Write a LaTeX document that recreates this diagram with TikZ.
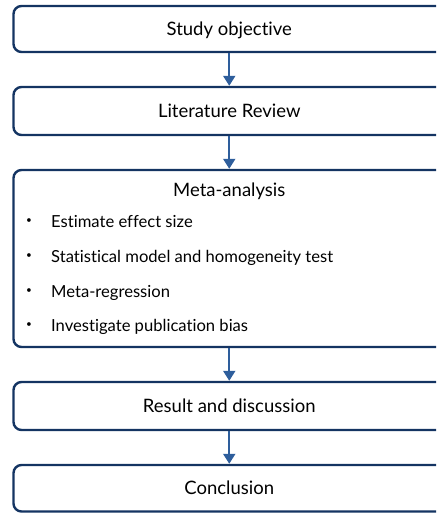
\documentclass[tikz,border=0pt]{standalone}
\usepackage{fontspec}
\setmainfont[Ligatures=NoCommon]{Lato}
\usetikzlibrary{arrows.meta}
\definecolor{boxline}{RGB}{20,52,98}
\definecolor{arrowc}{RGB}{46,94,156}
\tikzset{
  stage/.style={draw=boxline, line width=2.4pt, rounded corners=8pt, fill=white,
    minimum width=431.5pt, inner sep=0pt, text height=13.4pt, text depth=0pt,
    font=\fontsize{18.5}{22}\selectfont},
  flow/.style={draw=arrowc, line width=2pt, -{Triangle[width=12pt,length=10pt]}},
  bullet/.style={anchor=base west, inner sep=0pt, font=\fontsize{16.6}{20}\selectfont},
  dot/.style={anchor=center, inner sep=0pt, font=\fontsize{10}{12}\selectfont}
}
\begin{document}
\begin{tikzpicture}[x=1pt,y=-1pt]
\useasboundingbox (0,0) rectangle (436,513);
\clip (0,0) rectangle (436,513);
\node[stage, minimum height=46pt] (s1) at (229.25,29) {Study objective};
\node[stage, minimum height=48pt] (s2) at (229.25,111) {Literature Review};
\node[stage, minimum height=177pt, text height=0pt] (s3) at (229.25,258.5) {};
\node[anchor=base, inner sep=0pt, font=\fontsize{18.5}{22}\selectfont] (t3) at (229.25,196) {Meta-analysis};
\node[dot] (d1) at (29,221.5) {•};
\node[bullet] (b1) at (51,227) {Estimate effect size};
\node[dot] (d2) at (29,256.5) {•};
\node[bullet] (b2) at (51,262) {Statistical model and homogeneity test};
\node[dot] (d3) at (29,291.5) {•};
\node[bullet] (b3) at (51,297) {Meta-regression};
\node[dot] (d4) at (29,325.5) {•};
\node[bullet] (b4) at (51,331) {Investigate publication bias};
\node[stage, minimum height=48pt] (s4) at (229.25,406) {Result and discussion};
\node[stage, minimum height=46.5pt] (s5) at (229.25,488.25) {Conclusion};
\draw[flow] (s1.south) -- (s2.north);
\draw[flow] (s2.south) -- (s3.north);
\draw[flow] (s3.south) -- (s4.north);
\draw[flow] (s4.south) -- (s5.north);
\end{tikzpicture}
\end{document}
